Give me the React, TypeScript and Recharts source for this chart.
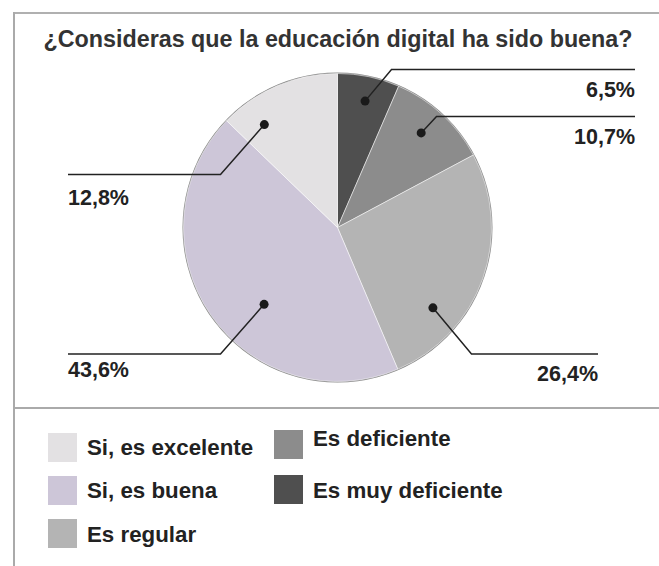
import React from 'react';
import { PieChart, Pie, Cell } from 'recharts';

const title = '¿Consideras que la educación digital ha sido buena?';
const categories = ['Es muy deficiente', 'Es deficiente', 'Es regular', 'Si, es buena', 'Si, es excelente'];
const values = [6.5, 10.7, 26.4, 43.6, 12.8];
const colors = ['#4f4f4f', '#8c8c8c', '#b4b4b4', '#cdc6d8', '#e3e1e3'];
const legendColumns = [
  ['Si, es excelente', 'Si, es buena', 'Es regular'],
  ['Es deficiente', 'Es muy deficiente'],
];

// leader-line layout per slice: dot angle (deg) & radius factor, elbow offset, horizontal end x, side
const labelLayout = [
  { a: 77.7, rf: 0.84, ex: 54, ey: -158, endX: 635, side: 'right', ty: 27 },
  { a: 48.5, rf: 0.82, ex: 99, ey: -111, endX: 635, side: 'right', ty: 27 },
  { a: -40.1, rf: 0.81, ex: 134, ey: 126.5, endX: 598, side: 'right', ty: 27 },
  { a: -133.7, rf: 0.69, ex: -117, ey: 126.5, endX: 68, side: 'left', ty: 23 },
  { a: 125.4, rf: 0.82, ex: -117, ey: -53, endX: 68, side: 'left', ty: 30 },
];

const data = categories.map((name, i) => ({ name, value: values[i] }));
const colorOf = (name: string) => colors[categories.indexOf(name)];
const fmt = (v: number) => v.toFixed(1).replace('.', ',') + '%';

const FONT = '"Liberation Sans", Arial, Helvetica, sans-serif';

const renderLabel = (props: any) => {
  const { cx, cy, outerRadius, index, value } = props;
  const L = labelLayout[index];
  const rad = (L.a * Math.PI) / 180;
  const dx = cx + outerRadius * L.rf * Math.cos(rad);
  const dy = cy - outerRadius * L.rf * Math.sin(rad);
  const ex = cx + L.ex;
  const ey = cy + L.ey;
  const tx = L.endX;
  return (
    <g key={`lbl-${index}`}>
      <polyline
        points={`${dx},${dy} ${ex},${ey} ${L.endX},${ey}`}
        fill="none"
        stroke="#222"
        strokeWidth={1.5}
      />
      <circle cx={dx} cy={dy} r={4.5} fill="#1a1a1a" />
      <text
        x={tx}
        y={ey + L.ty}
        textAnchor={L.side === 'right' ? 'end' : 'start'}
        fontFamily={FONT}
        fontWeight="bold"
        fontSize={21.5}
        fill="#222"
      >
        {fmt(value)}
      </text>
    </g>
  );
};

export default function App() {
  return (
    <div style={{ position: 'absolute', left: 0, top: 0, width: 659, height: 566, background: '#fff', fontFamily: FONT }}>
      <div style={{ position: 'absolute', left: 13, top: 12, width: 646, height: 1.5, background: '#b0b0b0' }} />
      <div style={{ position: 'absolute', left: 12.5, top: 12, width: 2, height: 554, background: '#aaaaaa' }} />
      <div style={{ position: 'absolute', left: 13, top: 406.5, width: 646, height: 2.5, background: '#aaaaaa' }} />
      <div
        style={{
          position: 'absolute',
          left: 0,
          top: 26,
          width: 676,
          textAlign: 'center',
          fontSize: 23.3,
          fontWeight: 'bold',
          color: '#333',
          whiteSpace: 'nowrap',
          lineHeight: '26px',
        }}
      >
        {title}
      </div>
      <div style={{ position: 'absolute', left: 0, top: 0 }}>
        <PieChart width={659} height={400} margin={{ top: 0, right: 0, bottom: 0, left: 0 }}>
          {/* outline ring */}
          <Pie
            data={[{ name: 'ring', value: 1 }]}
            dataKey="value"
            cx={337.5}
            cy={227.5}
            innerRadius={153}
            outerRadius={155}
            startAngle={90}
            endAngle={-270}
            stroke="none"
            fill="#8a8a8a"
            isAnimationActive={false}
          />
          <Pie
            data={data}
            dataKey="value"
            nameKey="name"
            cx={337.5}
            cy={227.5}
            outerRadius={154}
            startAngle={90}
            endAngle={-270}
            stroke="#ffffff"
            strokeWidth={0.5}
            label={renderLabel}
            labelLine={false}
            isAnimationActive={false}
          >
            {data.map((d, i) => (
              <Cell key={d.name} fill={colors[i]} />
            ))}
          </Pie>
        </PieChart>
      </div>
      {legendColumns.map((col, ci) =>
        col.map((name, ri) => (
          <div
            key={name}
            style={{
              position: 'absolute',
              left: ci === 0 ? 48 : 274,
              top: (ci === 0 ? 432.5 : 430) + ri * (ci === 0 ? 43.3 : 45),
              height: 29,
              display: 'flex',
              alignItems: 'center',
              whiteSpace: 'nowrap',
            }}
          >
            <div style={{ width: 29, height: 29, background: colorOf(name), marginRight: 10 }} />
            <span style={{ fontSize: 22.3, fontWeight: 'bold', color: '#222', position: 'relative', top: ci === 1 && ri === 0 ? -6 : 1 }}>
              {name}
            </span>
          </div>
        ))
      )}
    </div>
  );
}
